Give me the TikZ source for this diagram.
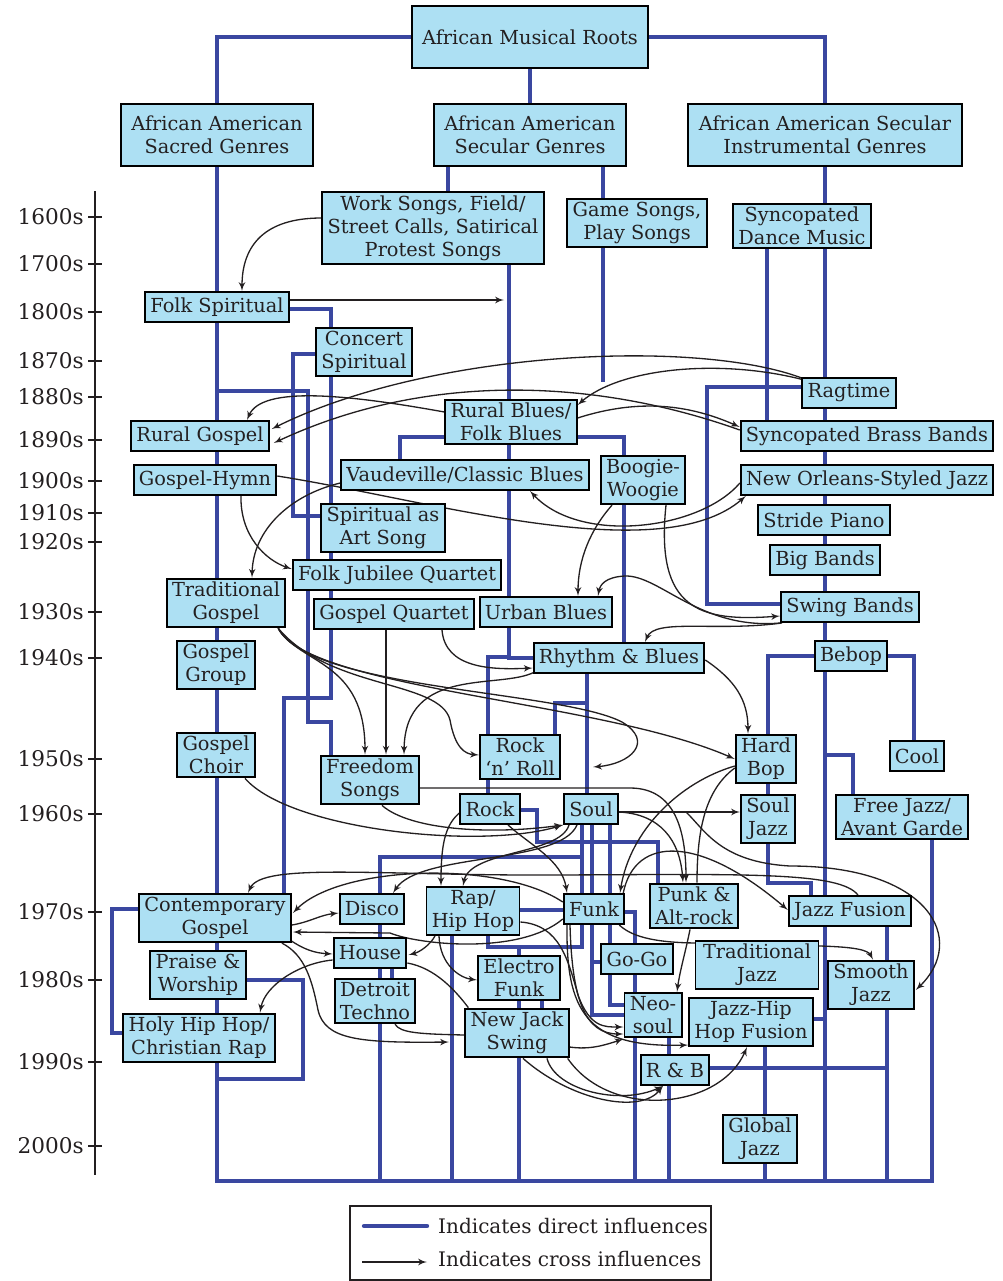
\documentclass[tikz,border=0pt]{standalone}
\usepackage{fontspec}
\setmainfont{DejaVu Serif}
\usepackage{tikz}
\usetikzlibrary{arrows, positioning, shapes, calc}
\definecolor{genrefill}{RGB}{173,224,243}
\definecolor{directblue}{RGB}{58,71,160}
\definecolor{inkgray}{RGB}{35,31,32}
\tikzstyle{genre} = [draw=black, rectangle, fill=genrefill, line width=1.1pt,
	align=center, inner xsep=3pt, inner ysep=2pt, minimum height=0.6cm,
	font=\fontsize{11}{13}\selectfont, text=inkgray]
\tikzstyle{root} = [genre, minimum height=1.24cm, inner xsep=6pt]
\tikzstyle{directline} = [draw=directblue, line width=2.5pt]
\tikzstyle{crossline} = [draw=inkgray, line width=0.75pt, -latex']
\tikzstyle{noarrow} = [draw=inkgray, line width=0.75pt]
\pgfdeclarelayer{bluelines}
\pgfdeclarelayer{blacklines}
\pgfsetlayers{bluelines,blacklines,main}

\begin{document}
\begin{tikzpicture}[x=0.02cm, y=-0.02cm]
		\useasboundingbox (0,0) rectangle (1002,1281);

		% genres
		\node [root, minimum width=4.64cm] (roots) at (530,37) {African Musical Roots};
		\node [root] (sacred) at (217,135) {African American\\Sacred Genres};
		\node [root] (secular) at (530,135) {African American\\Secular Genres};
		\node [root] (instr) at (825,135) {African American Secular\\Instrumental Genres};
		\node [genre] (work) at (433,228) {Work Songs, Field/\\Street Calls, Satirical\\Protest Songs};
		\node [genre] (game) at (637,223) {Game Songs,\\Play Songs};
		\node [genre] (syncdance) at (802,226) {Syncopated\\Dance Music};
		\node [genre] (folkspir) at (217,307) {Folk Spiritual};
		\node [genre] (concert) at (364,352) {Concert\\Spiritual};
		\node [genre] (ragtime) at (849,393) {Ragtime};
		\node [genre] (ruralblues) at (511,422) {Rural Blues/\\Folk Blues};
		\node [genre] (ruralgospel) at (200,436) {Rural Gospel};
		\node [genre] (syncbrass) at (867,436) {Syncopated Brass Bands};
		\node [genre] (gospelhymn) at (205,480) {Gospel-Hymn};
		\node [genre] (vaudeville) at (465,475) {Vaudeville/Classic Blues};
		\node [genre] (boogie) at (643,480) {Boogie-\\Woogie};
		\node [genre] (neworleans) at (867,480) {New Orleans-Styled Jazz};
		\node [genre] (spiritart) at (383,528) {Spiritual as\\Art Song};
		\node [genre] (stride) at (824,520) {Stride Piano};
		\node [genre] (bigbands) at (825,560) {Big Bands};
		\node [genre] (folkjubilee) at (397,575) {Folk Jubilee Quartet};
		\node [genre] (tradgospel) at (226,603) {Traditional\\Gospel};
		\node [genre] (gospelquartet) at (394,614) {Gospel Quartet};
		\node [genre] (urbanblues) at (546,612) {Urban Blues};
		\node [genre] (swing) at (850,607) {Swing Bands};
		\node [genre] (rnb) at (619,658) {Rhythm \& Blues};
		\node [genre] (gospelgroup) at (216,665) {Gospel\\Group};
		\node [genre] (bebop) at (851,656) {Bebop};
		\node [genre] (gospelchoir) at (216,755) {Gospel\\Choir};
		\node [genre] (freedom) at (370,780) {Freedom\\Songs};
		\node [genre] (rocknroll) at (520,757) {Rock\\‘n’ Roll};
		\node [genre] (hardbop) at (766,759) {Hard\\Bop};
		\node [genre] (cool) at (917,756) {Cool};
		\node [genre] (rock) at (490,809) {Rock};
		\node [genre] (soul) at (591,809) {Soul};
		\node [genre] (souljazz) at (768,819) {Soul\\Jazz};
		\node [genre] (freejazz) at (902,817) {Free Jazz/\\Avant Garde};
		\node [genre] (contempgospel) at (215,918) {Contemporary\\Gospel};
		\node [genre] (disco) at (372,909) {Disco};
		\node [genre] (rap) at (473,911) {Rap/\\Hip Hop};
		\node [genre] (funk) at (594,909) {Funk};
		\node [genre] (punk) at (694,906) {Punk \&\\Alt-rock};
		\node [genre] (jazzfusion) at (850,911) {Jazz Fusion};
		\node [genre] (house) at (370,953) {House};
		\node [genre, minimum width=2.46cm] (tradjazz) at (757,965) {Traditional\\Jazz};
		\node [genre] (gogo) at (637,959) {Go-Go};
		\node [genre] (electro) at (519,978) {Electro\\Funk};
		\node [genre] (smooth) at (871,985) {Smooth\\Jazz};
		\node [genre] (praise) at (198,975) {Praise \&\\Worship};
		\node [genre] (detroit) at (375,1001) {Detroit\\Techno};
		\node [genre] (neosoul) at (653,1015) {Neo-\\soul};
		\node [genre] (jazzhiphop) at (751,1022) {Jazz-Hip\\Hop Fusion};
		\node [genre] (newjack) at (517,1033) {New Jack\\Swing};
		\node [genre] (holyhiphop) at (199,1038) {Holy Hip Hop/\\Christian Rap};
		\node [genre] (rb) at (675,1070) {R \& B};
		\node [genre] (globaljazz) at (760,1139) {Global\\Jazz};

		\coordinate (fsend) at (504,300);
		\coordinate (loopend) at (593,767);
		\coordinate (njend) at (449,1042);

		% time axis
		\draw [inkgray, line width=1.1pt] (95,191) -- (95,1175);
		\foreach \yr/\ty in {1600s/217, 1700s/264, 1800s/312, 1870s/361, 1880s/397,
			1890s/440, 1900s/481, 1910s/513, 1920s/542, 1930s/612, 1940s/658,
			1950s/759, 1960s/814, 1970s/912, 1980s/980, 1990s/1062, 2000s/1146} {
			\draw [inkgray, line width=1.1pt] (88,\ty) -- (102,\ty);
			\node [anchor=east, inner sep=0pt, text=inkgray,
				font=\fontsize{12.3}{14}\selectfont] (yr\yr) at (84,\ty) {\yr};
		}

		% direct influences
		\begin{pgfonlayer}{bluelines}
		\path [directline] (roots.west) -| (sacred.north);
		\path [directline] (roots.east) -| (instr.north);
		\path [directline] (roots.south) -- (secular.north);
		\path [directline] (sacred.south) -- (217,1181) -- (932,1181) -- (freejazz.south -| 932,0);
		\path [directline] (secular.south -| 448,0) -- (work.north -| 448,0);
		\path [directline] (secular.south -| 603,0) -- (game.north -| 603,0);
		\path [directline] (game.south -| 603,0) -- (603,382);
		\path [directline] (work.south -| 509,0) -- (urbanblues.north -| 509,0);
		\path [directline] (urbanblues.south -| 509,0) |- (rnb.west);
		\path [directline] (509,657) -- (488,657) -- (rocknroll.north -| 488,0);
		\path [directline] (rocknroll.south -| 488,0) -- (rock.north -| 488,0);
		\path [directline] (ruralblues.west |- 0,437) -- (400,437) -- (vaudeville.north -| 400,0);
		\path [directline] (ruralblues.east |- 0,437) -- (624,437) -- (rnb.north -| 624,0);
		\path [directline] (folkspir.east |- 0,309) -- (331,309) -- (concert.north -| 331,0);
		\path [directline] (concert.south -| 331,0) -- (gospelquartet.north -| 331,0);
		\path [directline] (gospelquartet.south -| 331,0) -- (331,698) -- (284,698) -- (contempgospel.north -| 284,0);
		\path [directline] (217,391) -- (308,391) -- (308,722) -- (331,722) -- (freedom.north -| 331,0);
		\path [directline] (concert.west |- 0,354) -- (293,354) -- (293,516) -- (spiritart.west |- 0,516);
		\path [directline] (instr.south) -- (syncdance.north -| 825,0);
		\path [directline] (syncdance.south -| 825,0) -- (825,1181);
		\path [directline] (syncdance.south -| 767,0) -- (syncbrass.north -| 767,0);
		\path [directline] (ragtime.west |- 0,387) -- (707,387) -- (707,604) -- (swing.west |- 0,604);
		\path [directline] (bebop.west) -| (hardbop.north -| 768,0);
		\path [directline] (bebop.east) -| (cool.north -| 914,0);
		\path [directline] (hardbop.south -| 768,0) -- (souljazz.north -| 768,0);
		\path [directline] (souljazz.south -| 768,0) -- (768,883) -- (811,883) -- (jazzfusion.north -| 811,0);
		\path [directline] (825,755) -- (853,755) -- (freejazz.north -| 853,0);
		\path [directline] (jazzfusion.south -| 887,0) -- (smooth.north -| 887,0);
		\path [directline] (smooth.south -| 887,0) -- (887,1181);
		\path [directline] (rnb.south -| 587,0) -- (soul.north -| 587,0);
		\path [directline] (587,703) -- (555,703) -- (rocknroll.north -| 555,0);
		\path [directline] (rock.east |- 0,810) -- (537,810) -- (537,842) -- (658,842) -- (punk.north -| 658,0);
		\path [directline] (soul.south -| 582,0) -- (582,947) -- (488,947) -- (rap.south -| 488,0);
		\path [directline] (582,857) -- (380,857) -- (380,1181);
		\path [directline] (soul.south -| 592,0) |- (neosoul.west |- 0,1015);
		\path [directline] (soul.south -| 610,0) |- (neosoul.west |- 0,1005);
		\path [directline] (592,962) -- (gogo.west |- 0,962);
		\path [directline] (rap.east |- 0,910) -- (funk.west |- 0,910);
		\path [directline] (funk.east |- 0,912) -| (gogo.north -| 635,0);
		\path [directline] (gogo.south -| 635,0) -- (neosoul.north -| 635,0);
		\path [directline] (neosoul.south -| 635,0) -- (635,1181);
		\path [directline] (neosoul.south -| 669,0) -- (669,1181);
		\path [directline] (rb.east |- 0,1068) -- (887,1068);
		\path [directline] (jazzhiphop.east |- 0,1019) -- (825,1019);
		\path [directline] (jazzhiphop.south -| 765,0) -- (globaljazz.north -| 765,0);
		\path [directline] (globaljazz.south -| 765,0) -- (765,1181);
		\path [directline] (rap.south -| 452,0) -- (452,1181);
		\path [directline] (electro.north -| 519,0) -- (519,947);
		\path [directline] (electro.south -| 519,0) -- (newjack.north -| 519,0);
		\path [directline] (electro.south -| 542,0) -- (newjack.north -| 542,0);
		\path [directline] (newjack.south -| 519,0) -- (519,1181);
		\path [directline] (house.south -| 392,0) -- (detroit.north -| 392,0);
		\path [directline] (contempgospel.west |- 0,909) -- (112,909) -- (112,1033) -- (holyhiphop.west |- 0,1033);
		\path [directline] (praise.east |- 0,980) -- (303,980) -- (303,1079) -- (217,1079);
		\end{pgfonlayer}

		% cross influences
		\begin{pgfonlayer}{blacklines}
		\path [crossline] ($(work.west)+(0,-10)$) .. controls (265,218) and (242,245) .. ($(folkspir.north)+(25,0)$);
		\path [crossline] ($(folkspir.east)+(0,-7)$) -- (fsend);
		\path [crossline] ($(ragtime.north west)+(3,2)$) .. controls (700,338) and (430,350) .. ($(ruralgospel.east)+(2,-7)$);
		\path [crossline] ($(ragtime.north west)+(3,3)$) .. controls (720,358) and (620,368) .. ($(ruralblues.east)+(0,-17)$);
		\path [crossline] ($(syncbrass.west)+(0,-6)$) .. controls (600,380) and (430,370) .. ($(ruralgospel.east)+(4,7)$);
		\path [crossline] ($(ruralblues.west)+(0,-10)$) .. controls (350,395) and (262,385) .. ($(ruralgospel.north)+(47,0)$);
		\path [crossline] ($(ruralblues.east)+(0,-4)$) .. controls (640,398) and (690,405) .. ($(syncbrass.west)+(0,-9)$);
		\path [crossline] ($(gospelhymn.east)+(0,-4)$) .. controls (430,500) and (660,570) .. ($(neworleans.south west)+(6,0)$);
		\path [crossline] ($(neworleans.west)+(0,3)$) .. controls (700,530) and (580,545) .. ($(vaudeville.south)+(65,0)$);
		\path [crossline] ($(gospelhymn.south)+(36,0)$) .. controls (240,535) and (265,560) .. ($(folkjubilee.west)+(0,-6)$);
		\path [crossline] ($(vaudeville.west)+(0,8)$) .. controls (290,495) and (253,530) .. ($(tradgospel.north)+(26,0)$);
		\path [crossline] ($(boogie.south)+(-31,0)$) .. controls (590,530) and (578,560) .. ($(urbanblues.north)+(32,0)$);
		\path [crossline] ($(boogie.south)+(23,0)$) .. controls (655,610) and (700,622) .. ($(swing.west)+(0,9)$);
		\path [crossline] ($(swing.west)+(0,16)$) .. controls (700,630) and (660,575) .. (625,576) .. controls (605,577) and (600,585) .. ($(urbanblues.north)+(52,0)$);
		\path [crossline] ($(swing.south west)+(2,0)$) .. controls (715,632) and (655,618) .. ($(rnb.north)+(26,0)$);
		\path [crossline] ($(gospelquartet.south)+(-8,0)$) -- ($(freedom.north)+(16,0)$);
		\path [crossline] ($(gospelquartet.south)+(48,0)$) .. controls (445,668) and (490,670) .. ($(rnb.west)+(0,10)$);
		\path [crossline] ($(rnb.south west)+(2,-2)$) .. controls (500,690) and (405,665) .. ($(freedom.north)+(34,0)$);
		\path [crossline] ($(tradgospel.south east)+(-8,0)$) .. controls (300,665) and (365,660) .. ($(freedom.north)+(-5,0)$);
		\path [crossline] ($(tradgospel.south east)+(-8,0)$) .. controls (310,690) and (600,700) .. (hardbop.west);
		\path [crossline] ($(tradgospel.south east)+(-8,0)$) .. controls (330,690) and (440,680) .. (450,720) .. controls (455,748) and (465,754) .. ($(rocknroll.west)+(0,-2)$);
		\path [crossline] ($(tradgospel.south east)+(-8,0)$) .. controls (310,690) and (560,690) .. (622,722) .. controls (655,742) and (630,764) .. (loopend);
		\path [crossline] ($(rnb.east)+(0,2)$) .. controls (735,680) and (748,700) .. ($(hardbop.north)+(-18,0)$);
		\path [crossline] ($(gospelchoir.south)+(29,0)$) .. controls (290,830) and (480,850) .. (soul.south west);
		\path [crossline] ($(freedom.south)+(12,0)$) .. controls (410,830) and (490,835) .. (soul.south west);
		\path [crossline] ($(freedom.east)+(0,8)$) -- (630,788) .. controls (675,788) and (686,830) .. ($(punk.north)+(-8,0)$);
		\path [crossline] ($(soul.east)+(0,3)$) .. controls (660,814) and (680,840) .. ($(punk.north)+(-11,0)$);
		\path [crossline] ($(soul.east)+(0,3)$) -- ($(souljazz.west)+(0,-7)$);
		\path [crossline] ($(soul.east)+(0,3)$) -- (686,812) .. controls (705,830) and (720,862) .. (790,866) .. controls (930,866) and (968,940) .. ($(smooth.east)+(1,5)$);
		\path [crossline] ($(hardbop.west)+(0,7)$) .. controls (680,782) and (630,830) .. ($(funk.north)+(26,0)$);
		\path [noarrow] ($(hardbop.west)+(0,9)$) .. controls (705,790) and (697,830) .. ($(punk.north)+(3,0)$);
		\path [crossline] ($(funk.north east)+(-2,0)$) .. controls (635,835) and (700,835) .. ($(jazzfusion.west)+(0,-1)$);
		\path [crossline] ($(jazzfusion.north)+(8,0)$) .. controls (840,872) and (750,874) .. (560,875) .. controls (380,876) and (262,862) .. ($(contempgospel.north)+(33,0)$);
		\path [crossline] ($(funk.west)+(0,-7)$) .. controls (500,860) and (340,865) .. ($(contempgospel.east)+(1,-5)$);
		\path [crossline] ($(funk.west)+(0,10)$) .. controls (520,955) and (420,945) .. (390,933) -- ($(contempgospel.east)+(1,14)$);
		\path [crossline] ($(contempgospel.east)+(0,7)$) .. controls (310,922) and (320,915) .. ($(disco.west)+(0,4)$);
		\path [crossline] ($(contempgospel.east)+(-2,22)$) .. controls (305,950) and (315,953) .. ($(house.west)+(0,1)$);
		\path [crossline] ($(rock.west)+(0,4)$) .. controls (445,825) and (441,845) .. ($(rap.north)+(-32,0)$);
		\path [crossline] ($(soul.south)+(-22,0)$) .. controls (560,855) and (470,850) .. ($(rap.north)+(-10,0)$);
		\path [crossline] ($(rock.south)+(18,0)$) .. controls (530,845) and (562,860) .. ($(funk.north)+(-27,0)$);
		\path [crossline] ($(soul.south)+(-14,0)$) .. controls (560,865) and (420,852) .. ($(disco.north)+(21,0)$);
		\path [crossline] ($(rap.south)+(-38,0)$) .. controls (430,945) and (420,952) .. ($(house.east)+(1,2)$);
		\path [crossline] ($(rap.south)+(-34,0)$) .. controls (440,965) and (460,978) .. ($(electro.west)+(0,2)$);
		\path [crossline] ($(house.west)+(0,7)$) .. controls (300,963) and (265,985) .. ($(holyhiphop.north)+(61,0)$);
		\path [crossline] ($(contempgospel.south east)+(-10,0)$) .. controls (305,955) and (312,980) .. (318,1010) .. controls (325,1040) and (360,1043) .. (njend);
		\path [noarrow] ($(detroit.south)+(20,0)$) .. controls (400,1033) and (420,1034) .. ($(newjack.west)+(0,2)$);
		\path [noarrow] ($(house.east)+(0,10)$) .. controls (435,968) and (455,990) .. ($(newjack.north west)+(4,0)$);
		\path [crossline] ($(rap.east)+(0,11)$) .. controls (560,925) and (568,960) .. (578,995) .. controls (590,1028) and (605,1027) .. ($(neosoul.west)+(0,12)$);
		\path [crossline] ($(funk.south)+(-24,0)$) .. controls (572,1000) and (585,1034) .. ($(neosoul.west)+(0,19)$);
		\path [crossline] ($(funk.south)+(-27,0)$) .. controls (566,1010) and (585,1048) .. ($(jazzhiphop.south west)+(0,-2)$);
		\path [crossline] ($(newjack.east)+(0,14)$) .. controls (590,1050) and (605,1045) .. ($(neosoul.west)+(0,24)$);
		\path [crossline] ($(funk.south east)+(-6,0)$) .. controls (630,935) and (650,943) .. (700,943) -- (820,946) .. controls (855,947) and (868,950) .. ($(smooth.north)+(2,0)$);
		\path [crossline] ($(punk.south)+(-4,0)$) .. controls (686,950) and (680,970) .. ($(neosoul.north)+(24,0)$);
		\path [crossline] ($(newjack.south)+(6,0)$) .. controls (570,1100) and (640,1115) .. ($(rb.south)+(-12,0)$);
		\path [crossline] ($(newjack.south)+(30,0)$) .. controls (555,1090) and (620,1106) .. ($(rb.south)+(-12,0)$);
		\path [crossline] ($(newjack.south east)+(-2,0)$) .. controls (610,1120) and (720,1110) .. ($(jazzhiphop.south)+(-4,0)$);
		\end{pgfonlayer}

		% legend
		\node [draw=inkgray, line width=0.8pt, minimum width=7.22cm, minimum height=1.48cm] (legend) at (530.5,1243) {};
		\path [directline, line cap=round] (364,1226) -- (427,1226);
		\path [crossline] (362,1262) -- (427,1262);
		\node [anchor=west, text=inkgray, font=\fontsize{11.4}{13}\selectfont] (directtext) at (432,1226) {Indicates direct influences};
		\node [anchor=west, text=inkgray, font=\fontsize{11.4}{13}\selectfont] (crosstext) at (432,1259) {Indicates cross influences};
	\end{tikzpicture}
\end{document}
